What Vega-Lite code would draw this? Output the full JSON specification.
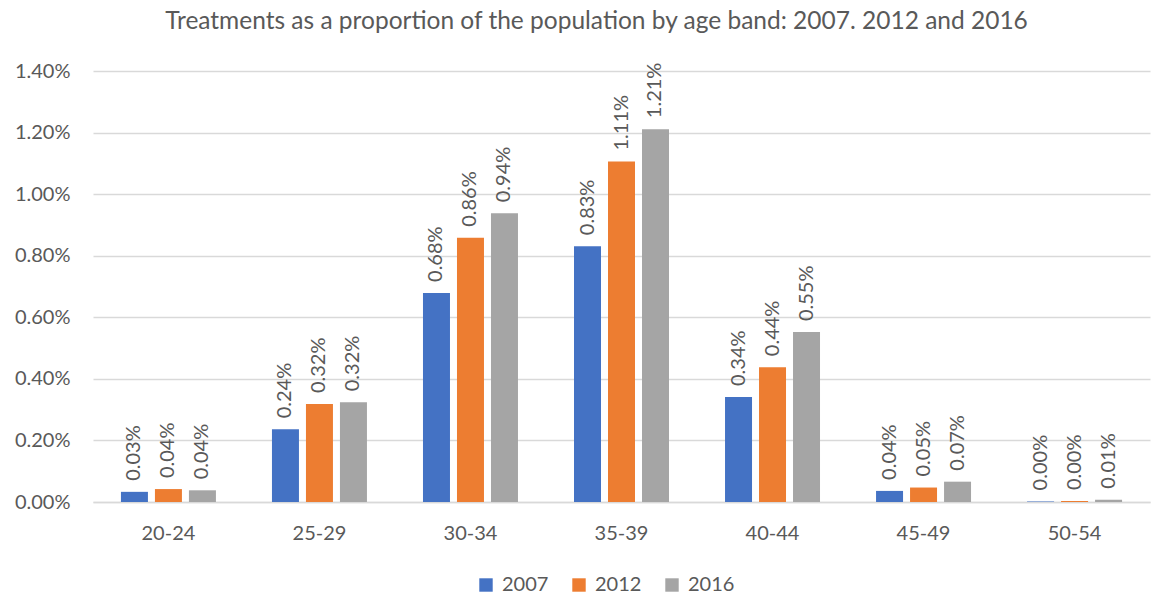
{
  "$schema": "https://vega.github.io/schema/vega-lite/v6.json",
  "autosize": "none",
  "width": 1057,
  "height": 431,
  "padding": {"left": 93, "top": 71, "right": 10, "bottom": 95},
  "background": "white",
  "config": {
    "font": "Lato",
    "view": {"stroke": null},
    "axis": {"labelFont": "Lato", "labelColor": "#595959", "labelFontSize": 20, "titleFont": "Lato"},
    "legend": {"labelFont": "Lato", "labelColor": "#595959", "labelFontSize": 20}
  },
  "title": {
    "text": "Treatments as a proportion of the population by age band: 2007. 2012 and 2016",
    "font": "Lato",
    "fontSize": 24.5,
    "fontWeight": "normal",
    "color": "#595959",
    "anchor": "middle",
    "offset": 27,
    "dx": -25
  },
  "data": {
    "values": [
      {"age": "20-24", "year": "2007", "value": 0.00033},
      {"age": "20-24", "year": "2012", "value": 0.00042},
      {"age": "20-24", "year": "2016", "value": 0.00038},
      {"age": "25-29", "year": "2007", "value": 0.00236},
      {"age": "25-29", "year": "2012", "value": 0.00318},
      {"age": "25-29", "year": "2016", "value": 0.00324},
      {"age": "30-34", "year": "2007", "value": 0.00679},
      {"age": "30-34", "year": "2012", "value": 0.00858},
      {"age": "30-34", "year": "2016", "value": 0.00938},
      {"age": "35-39", "year": "2007", "value": 0.00831},
      {"age": "35-39", "year": "2012", "value": 0.01106},
      {"age": "35-39", "year": "2016", "value": 0.01211},
      {"age": "40-44", "year": "2007", "value": 0.00341},
      {"age": "40-44", "year": "2012", "value": 0.00438},
      {"age": "40-44", "year": "2016", "value": 0.00552},
      {"age": "45-49", "year": "2007", "value": 0.00036},
      {"age": "45-49", "year": "2012", "value": 0.00047},
      {"age": "45-49", "year": "2016", "value": 0.00066},
      {"age": "50-54", "year": "2007", "value": 0.00002},
      {"age": "50-54", "year": "2012", "value": 0.00003},
      {"age": "50-54", "year": "2016", "value": 0.00007}
    ]
  },
  "encoding": {
    "x": {
      "field": "age",
      "type": "nominal",
      "scale": {"paddingInner": 0.371, "paddingOuter": 0.185},
      "axis": {
        "title": null,
        "labelAngle": 0,
        "ticks": false,
        "domain": true,
        "domainColor": "#D9D9D9",
        "domainWidth": 1.5,
        "labelPadding": 21,
        "grid": false
      }
    },
    "xOffset": {
      "field": "year",
      "type": "nominal",
      "scale": {"paddingInner": 0.206, "paddingOuter": 0}
    },
    "y": {
      "field": "value",
      "type": "quantitative",
      "scale": {"domain": [0, 0.014], "nice": false},
      "axis": {
        "title": null,
        "format": ".2%",
        "values": [0, 0.002, 0.004, 0.006, 0.008, 0.01, 0.012, 0.014],
        "domain": false,
        "ticks": false,
        "gridColor": "#D9D9D9",
        "gridWidth": 1.5,
        "labelPadding": 23
      }
    }
  },
  "layer": [
    {
      "mark": {"type": "bar"},
      "encoding": {
        "color": {
          "field": "year",
          "type": "nominal",
          "scale": {"domain": ["2007", "2012", "2016"], "range": ["#4472C4", "#ED7D31", "#A5A5A5"]},
          "legend": {
            "title": null,
            "orient": "none",
            "legendX": 383,
            "legendY": 504,
            "direction": "horizontal",
            "symbolType": "square",
            "symbolSize": 180,
            "symbolStrokeWidth": 0,
            "columnPadding": 20,
            "labelOffset": 6
          }
        }
      }
    },
    {
      "mark": {
        "type": "text",
        "angle": -90,
        "align": "left",
        "baseline": "middle",
        "dx": 11,
        "font": "Lato",
        "fontSize": 20,
        "color": "#595959"
      },
      "encoding": {
        "text": {"field": "value", "type": "quantitative", "format": ".2%"}
      }
    }
  ]
}
